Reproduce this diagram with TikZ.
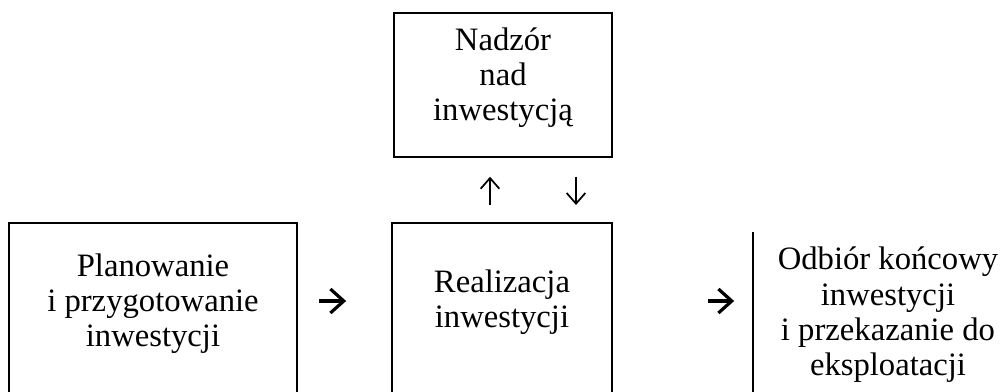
\documentclass[tikz,border=0pt]{standalone}
\usepackage{fontspec}
\setmainfont{Liberation Serif}
\usetikzlibrary{arrows.meta}

\begin{document}
\begin{tikzpicture}[x=0.75pt, y=-0.75pt,
  box/.style={draw, line width=1.3pt, rectangle, inner sep=0pt, align=center,
    font=\fontsize{24.5pt}{26.5pt}\selectfont},
  fat/.style={line width=2.4pt, -{Straight Barb[length=10pt, width=18pt]}},
  slim/.style={line width=1.3pt, -{Straight Barb[length=8pt, width=14pt]}}]
\useasboundingbox (0,0) rectangle (1007,392);

\node[box, anchor=north, minimum width=216pt, text height=93pt, text depth=50pt] (plan) at (153,222) {Planowanie\\i przygotowanie\\inwestycji};
\node[box, anchor=north, minimum width=165pt, text height=78.75pt, text depth=51pt] (real) at (502,222) {Realizacja\\inwestycji};
\node[box, anchor=north, minimum width=163.5pt, text height=81pt, text depth=27pt] (sup) at (503,12) {Nadzór\\nad\\inwestycją};
\node[box, draw=none, anchor=north, minimum width=201pt, text height=107.25pt, text depth=30pt] (odb) at (888,232) {Odbiór końcowy\\inwestycji\\i przekazanie do\\eksploatacji};
\draw[line width=1.3pt] (odb.north west) -- (odb.south west);

\coordinate (row) at (0,301);
\coordinate (upx) at (490,0);
\coordinate (dnx) at (576,0);

\draw[fat, shorten <=15.75pt, shorten >=33.75pt] (plan.east |- row) -- (real.west |- row);
\draw[fat, shorten <=71.25pt, shorten >=14.25pt] (real.east |- row) -- (odb.west |- row);
\draw[slim, shorten <=12.75pt, shorten >=14.25pt] (real.north -| upx) -- (sup.south -| upx);
\draw[slim, shorten <=14.25pt, shorten >=12.75pt] (sup.south -| dnx) -- (real.north -| dnx);

\end{tikzpicture}
\end{document}
